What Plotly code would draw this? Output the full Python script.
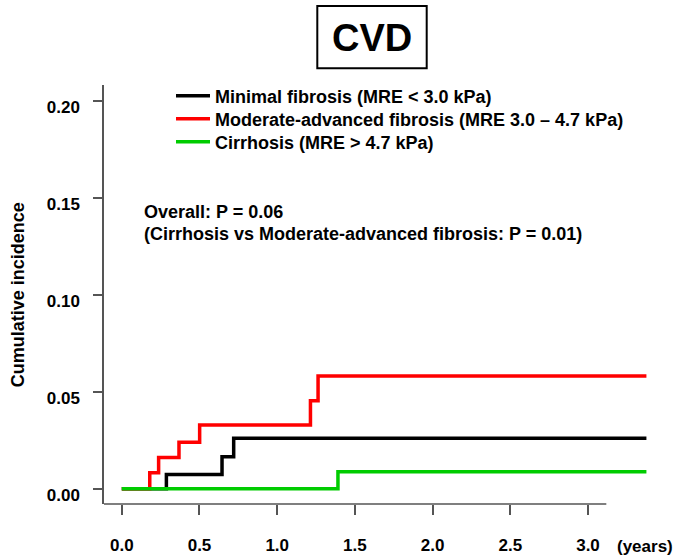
import plotly.graph_objects as go

# ---- data ----
series_names = [
    "Minimal fibrosis (MRE < 3.0 kPa)",
    "Moderate-advanced fibrosis (MRE 3.0 \u2013 4.7 kPa)",
    "Cirrhosis (MRE > 4.7 kPa)",
]
time_minimal = [0, 0.287, 0.645, 0.720, 3.376]
ci_minimal = [0, 0.0074, 0.0166, 0.0261, 0.0261]
time_moderate = [0, 0.180, 0.237, 0.368, 0.501, 1.214, 1.263, 3.376]
ci_moderate = [0, 0.0083, 0.0161, 0.0240, 0.0329, 0.0455, 0.0582, 0.0582]
time_cirrhosis = [0, 1.391, 3.376]
ci_cirrhosis = [0, 0.0088, 0.0088]
x_ticks = [0.0, 0.5, 1.0, 1.5, 2.0, 2.5, 3.0]
y_ticks = [0.00, 0.05, 0.10, 0.15, 0.20]
colors = ["#000000", "#FF0000", "#00CC00"]

FONT = "Liberation Sans, Arial, Helvetica, sans-serif"
AX = "#555555"
L, R, T, B = 104, 28, 85, 52
PW, PH = 682 - L - R, 556 - T - B


def px(xp):
    return (xp - L) / PW


def py(yp):
    return (556 - B - yp) / PH


legend_ids = ["legend", "legend2", "legend3"]
legend_rows = [96, 119, 142]

fig = go.Figure()
for t, c, name, col, lg in zip(
    [time_minimal, time_moderate, time_cirrhosis],
    [ci_minimal, ci_moderate, ci_cirrhosis],
    series_names, colors, legend_ids,
):
    fig.add_trace(go.Scatter(x=t, y=c, mode="lines", name=name, legend=lg,
                             line=dict(color=col, width=3.5, shape="hv")))

legend_font = dict(family=FONT, size=18, color="black", weight="bold")
layout_legends = {}
for lg, row in zip(legend_ids, legend_rows):
    layout_legends[lg] = dict(x=px(171), y=py(row), xanchor="left", yanchor="middle",
                              itemwidth=34,
                              bgcolor="rgba(0,0,0,0)", borderwidth=0, font=legend_font)

fig.update_layout(
    width=682, height=556,
    margin=dict(l=L, r=R, t=T, b=B, autoexpand=False),
    paper_bgcolor="white", plot_bgcolor="white",
    font=dict(family=FONT, color="black"),
    showlegend=True,
    xaxis=dict(range=[-0.1145, 3.4248], tickvals=x_ticks, tickformat=".1f",
               automargin=False,
               showgrid=False, zeroline=False, showline=False,
               ticks="outside", ticklen=10, tickwidth=1.5, tickcolor=AX,
               ticklabelstandoff=16,
               tickfont=dict(family=FONT, size=17, color="black", weight="bold")),
    yaxis=dict(range=[-0.00785, 0.2085], tickvals=y_ticks, tickformat=".2f",
               automargin=False,
               showgrid=False, zeroline=False, showline=True,
               linecolor=AX, linewidth=1.5,
               ticks="outside", ticklen=9, tickwidth=1.5, tickcolor=AX,
               ticklabelstandoff=10, ticklabelshift=6,
               tickfont=dict(family=FONT, size=17, color="black", weight="bold")),
    **layout_legends,
)

# x axis line (shorter than the plotting area, like the reference)
fig.add_shape(type="line", xref="x", yref="paper", x0=-0.1145, x1=3.118, y0=0, y1=0,
              line=dict(color=AX, width=1.5))

# title box
fig.add_shape(type="rect", xref="paper", yref="paper",
              x0=px(317.3), x1=px(426.7), y0=py(68.3), y1=py(6),
              line=dict(color="black", width=2), fillcolor="white")
fig.add_annotation(text="CVD", xref="paper", yref="paper", x=px(372), y=py(38),
                   xanchor="center", yanchor="middle", showarrow=False,
                   font=dict(family=FONT, size=38, color="black", weight="bold"))

# y axis title
fig.add_annotation(text="Cumulative incidence", xref="paper", yref="paper",
                   x=px(18.3), y=py(295), textangle=-90, xanchor="center", yanchor="middle",
                   showarrow=False,
                   font=dict(family=FONT, size=18, color="black", weight="bold"))

# x unit label
fig.add_annotation(text="(years)", xref="paper", yref="paper",
                   x=px(614.7), y=py(546),
                   xanchor="left", yanchor="middle", showarrow=False,
                   font=dict(family=FONT, size=17, color="black", weight="bold"))

# p-value text
fig.add_annotation(text="Overall: P = 0.06", xref="paper", yref="paper",
                   x=px(141.7), y=py(212),
                   xanchor="left", yanchor="middle", showarrow=False,
                   font=dict(family=FONT, size=18, color="black", weight="bold"))
fig.add_annotation(text="(Cirrhosis vs Moderate-advanced fibrosis: P = 0.01)",
                   xref="paper", yref="paper",
                   x=px(141.7), y=py(234),
                   xanchor="left", yanchor="middle", showarrow=False,
                   font=dict(family=FONT, size=18, color="black", weight="bold"))

fig.write_html("out.html", config={"displayModeBar": False},
               post_script="document.body.style.margin='0';")
